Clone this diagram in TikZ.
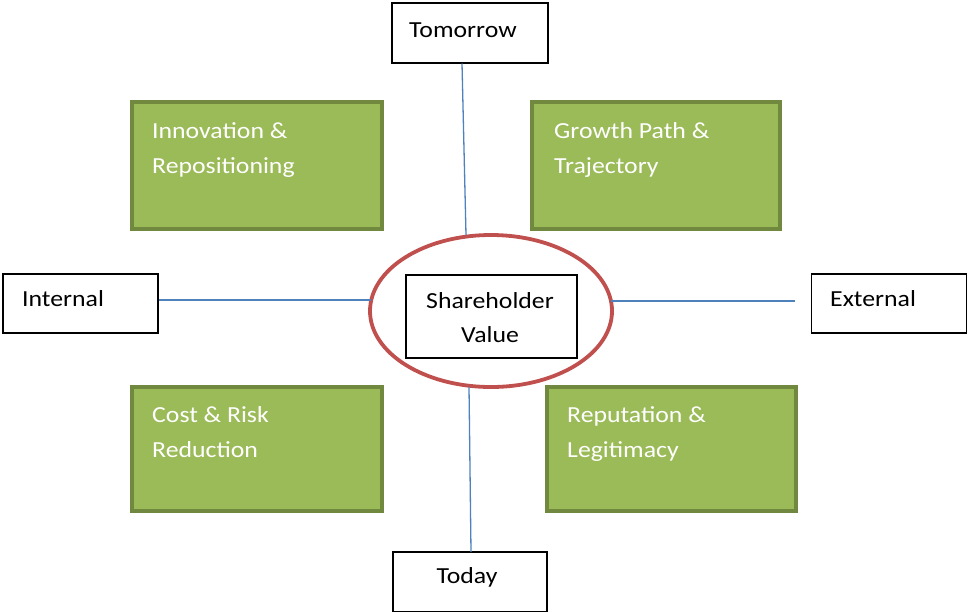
\documentclass[tikz,border=0pt]{standalone}
\usepackage{fontspec}
\setmainfont{Carlito}[FakeStretch=1.12]
\usetikzlibrary{shapes.geometric}
\definecolor{leaf}{HTML}{9BBB59}
\definecolor{leafedge}{HTML}{71893F}
\definecolor{ring}{HTML}{C0504D}
\definecolor{axis}{HTML}{4F81BD}
\tikzset{
  x=1pt, y=-1pt,
  quad/.style={draw=leafedge, fill=leaf, line width=3.5pt, inner sep=0pt},
  quadtext/.style={anchor=base west, inner sep=0pt, align=left, text=white,
    font=\fontsize{23}{35}\selectfont},
  labelbox/.style={draw=black, line width=1.4pt, fill=white, inner sep=0pt},
  labeltext/.style={inner sep=0pt, text=black, font=\fontsize{23}{34}\selectfont},
  axisline/.style={draw=axis, line width=1.3pt},
}
\begin{document}
\begin{tikzpicture}
\useasboundingbox (0,0) rectangle (968,611);

% quadrant boxes (text anchored on the baseline of its last line)
\path[quad] (132,102) rectangle (382,229);
\path[quad] (532,102) rectangle (780,229);
\path[quad] (132,387) rectangle (382,511);
\path[quad] (547,387) rectangle (796,511);
\node[quadtext] (innov) at (152,173) {Innovation \&\\Repositioning};
\node[quadtext] (growth) at (554,173) {Growth Path \&\\Trajectory};
\node[quadtext] (cost) at (152,457) {Cost \& Risk\\Reduction};
\node[quadtext] (rep) at (567,457) {Reputation \&\\Legitimacy};

% axis end labels
\node[labelbox, minimum width=156pt, minimum height=60pt] (tomorrow) at (470,33) {};
\node[labelbox, minimum width=154pt, minimum height=60pt] (today) at (470,582) {};
\node[labelbox, minimum width=155pt, minimum height=59pt] (internal) at (80.5,303.5) {};
\node[labelbox, minimum width=155pt, minimum height=59pt] (external) at (889,303.5) {};
\node[labeltext, anchor=base west] (tomorrowtext) at (409,37) {Tomorrow};
\node[labeltext, anchor=base] (todaytext) at (467,583) {Today};
\node[labeltext, anchor=base west] (internaltext) at (22,306) {Internal};
\node[labeltext, anchor=base west] (externaltext) at (830,306) {External};

% centre
\node[draw=ring, line width=3.8pt, ellipse, minimum width=242pt, minimum height=152pt, inner sep=0pt] (ringnode) at (491,311) {};
\node[labelbox, minimum width=171pt, minimum height=83pt] (sv) at (491.5,316.5) {};
\node[labeltext, anchor=base, align=center] (svtext) at (490,342) {Shareholder\\Value};

% axes
\coordinate (topin) at (466,235);
\coordinate (botin) at (469,387);
\coordinate (leftin) at (371,300);
\coordinate (rightin) at (611,301);
\coordinate (rightend) at (795,301);
\coordinate (topout) at (462,63.5);
\coordinate (botout) at (471,552);
\draw[axisline] (topout) -- (topin);
\draw[axisline] (botin) -- (botout);
\draw[axisline] (internal.east |- leftin) -- (leftin);
\draw[axisline] (rightin) -- (rightend);
\end{tikzpicture}
\end{document}
